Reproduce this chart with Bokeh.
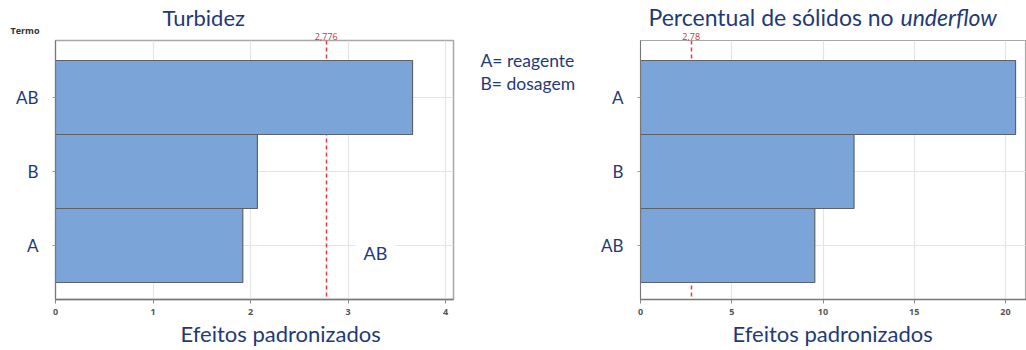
from bokeh.plotting import figure
from bokeh.models import Range1d, FixedTicker, Label, LinearAxis, Title
from bokeh.layouts import row
from bokeh.embed import file_html
from bokeh.resources import INLINE

# ---- data ----
turb_terms = ["A", "B", "AB"]
turb_values = [1.92, 2.07, 3.66]
turb_crit = 2.776
turb_crit_label = "2,776"

sol_terms = ["AB", "B", "A"]
sol_values = [9.55, 11.7, 20.55]
sol_crit = 2.78
sol_crit_label = "2,78"

x_label = "Efeitos padronizados"
legend_lines = ["A= reagente", "B= dosagem"]

NAVY = "#1F3A78"
BAR = "#7BA5D8"
FONT = "Lato"


def title(p, text, side, offset, size, standoff=0, style="normal",
          color=NAVY, font=FONT):
    p.add_layout(Title(text=text, align="left", offset=offset, standoff=standoff,
                       text_font=font, text_font_size=size,
                       text_font_style=style, text_color=color), side)


def make_panel(terms, values, crit, crit_label, xmax, xticks, width, bl, br):
    ypos = list(range(len(terms)))
    p = figure(width=width, height=350, x_range=Range1d(0, xmax),
               y_range=Range1d(-0.73, 2.77), output_backend="svg",
               toolbar_location=None, min_border_left=bl, min_border_right=br,
               min_border_top=40, min_border_bottom=51)
    p.title_location = None
    p.outline_line_color = "#A8A8A8"
    p.outline_line_width = 1.5
    p.vspan(x=[crit], line_color="#E8393B", line_dash="4 3", line_width=1.5)
    p.hbar(y=ypos, right=values, height=1.0, left=0, fill_color=BAR,
           line_color="#5E6166", line_width=1.2)
    p.xaxis.ticker = FixedTicker(ticks=xticks)
    p.yaxis.ticker = FixedTicker(ticks=ypos)
    p.yaxis.major_label_overrides = {i: t for i, t in enumerate(terms)}
    p.yaxis.major_label_text_font = FONT
    p.yaxis.major_label_text_font_size = "17px"
    p.yaxis.major_label_text_color = NAVY
    p.yaxis.major_label_standoff = 14
    p.yaxis.major_tick_in = 0
    p.yaxis.major_tick_out = 3
    p.yaxis.minor_tick_line_color = None
    p.yaxis.axis_line_color = "#777777"
    p.yaxis.major_tick_line_color = "#999999"
    p.xaxis.major_label_text_font = "Open Sans"
    p.xaxis.major_label_text_font_size = "9px"
    p.xaxis.major_label_text_font_style = "bold"
    p.xaxis.major_label_text_color = "#555555"
    p.xaxis.major_tick_in = 0
    p.xaxis.major_tick_out = 4
    p.xaxis.minor_tick_line_color = None
    p.xaxis.axis_line_color = "#777777"
    p.xaxis.axis_line_width = 1.5
    p.xaxis.major_tick_line_color = "#888888"
    p.grid.grid_line_color = "#E4E4E4"
    p.grid.grid_line_width = 1.2
    # critical value label via a top axis
    top = LinearAxis(ticker=FixedTicker(ticks=[crit]),
                     major_label_overrides={crit: crit_label},
                     axis_line_color=None, major_tick_line_color=None,
                     minor_tick_line_color=None, major_label_standoff=1,
                     major_tick_out=0, major_tick_in=0,
                     major_label_text_font="Open Sans",
                     major_label_text_font_size="9px",
                     major_label_text_color="#D03030")
    p.add_layout(top, "above")
    return p


left = make_panel(turb_terms, turb_values, turb_crit, turb_crit_label,
                  4.08, [0, 1, 2, 3, 4], 460, 55, 7)
title(left, "Termo", "above", -45, "9px", standoff=-14, style="bold",
      color="#333333", font="Open Sans")
title(left, "Turbidez", "above", 107, "22px", standoff=-4)
title(left, x_label, "below", 125, "22px")
left.add_layout(Label(x=3.28, y=-0.1, text="AB", text_align="center",
                      text_baseline="middle", text_font=FONT,
                      text_font_size="18px", text_color=NAVY,
                      background_fill_color="white", padding=8))

mid = figure(width=125, height=350, x_range=Range1d(0, 125),
             y_range=Range1d(51, 310), output_backend="svg",
             toolbar_location=None, min_border=0,
             x_axis_location=None, y_axis_location=None)
mid.title_location = None
mid.grid.visible = False
mid.outline_line_color = None
mid.text(x=[20, 20], y=[290, 267], text=legend_lines, text_font_size="17.5px",
         text_color=NAVY, text_baseline="middle", text_align="left",
         text_font={"value": FONT})

right = make_panel(sol_terms, sol_values, sol_crit, sol_crit_label,
                   21.15, [0, 5, 10, 15, 20], 441, 55, 0)
right.outline_line_width = 1.2
# spacer row, then two zero-height titles sharing one line
title(right, "\u00a0", "above", 0, "9px", standoff=-2.5, font="Open Sans")
title(right, "Percentual de sólidos no", "above", 8, "23px", standoff=-29.6)
title(right, "underflow", "above", 260, "23px", standoff=-29.6, style="italic")
title(right, x_label, "below", 92, "22px")

layout = row(left, mid, right, spacing=0)
open("out.html", "w").write(file_html(layout, INLINE))
